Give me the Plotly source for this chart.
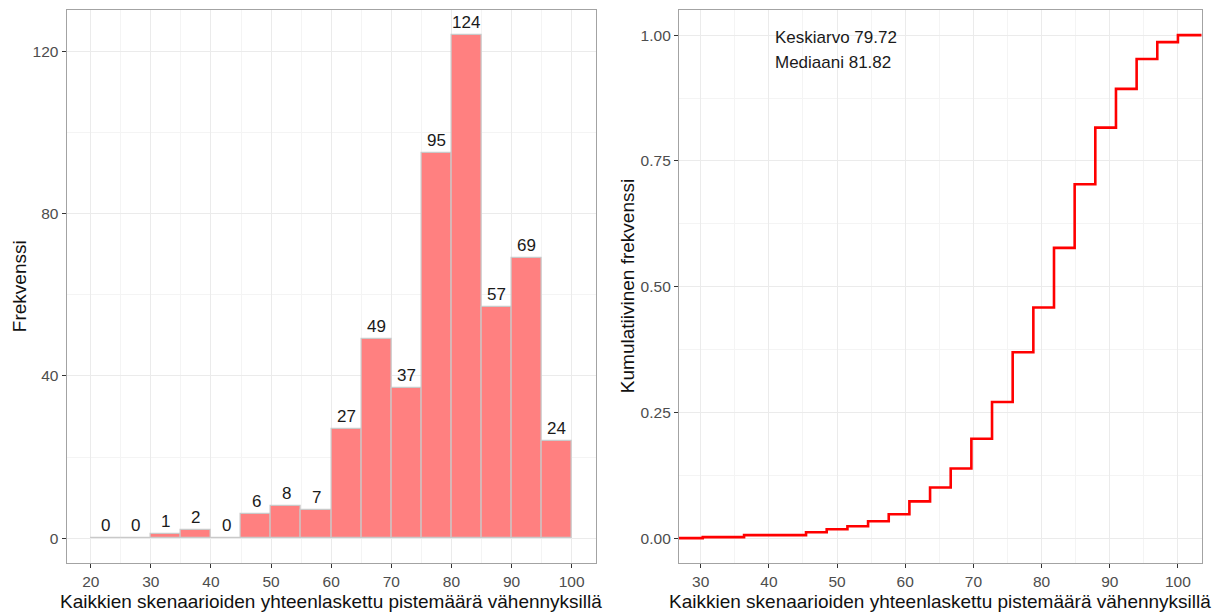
import numpy as np
import plotly.graph_objects as go

# Total scores (with deductions) over all scenarios and how many respondents got each
score_values = [30.30, 36.36, 45.45, 48.48, 51.52, 54.55, 57.58, 60.61, 63.64, 66.67,
                69.70, 72.73, 75.76, 78.79, 81.82, 84.85, 87.88, 90.91, 93.94, 96.97, 100.00]
score_counts = [1, 2, 3, 3, 3, 5, 7, 13, 14, 19,
                30, 37, 50, 45, 60, 64, 57, 39, 30, 17, 7]

# Histogram bins
bin_edges = [20, 25, 30, 35, 40, 45, 50, 55, 60, 65, 70, 75, 80, 85, 90, 95, 100]

x_title = "Kaikkien skenaarioiden yhteenlaskettu pistemäärä vähennyksillä"
y_title_left = "Frekvenssi"
y_title_right = "Kumulatiivinen frekvenssi"

# ---------------------------------------------------------------- data prep
scores = np.repeat(np.array(score_values), score_counts)
n = len(scores)
hist_counts, _ = np.histogram(scores, bins=bin_edges)
edges = np.array(bin_edges, dtype=float)
centers = (edges[:-1] + edges[1:]) / 2
widths = np.diff(edges)

vals = np.array(score_values)
cum = np.cumsum(score_counts) / n

mean_val = scores.mean()
median_val = np.median(scores)


def expand(lo, hi, mult=0.05):
    pad = (hi - lo) * mult
    return [lo - pad, hi + pad]


xr1 = expand(edges[0], edges[-1])
yr1 = expand(0, hist_counts.max())
xr2 = expand(vals.min(), vals.max())
yr2 = expand(0, 1)

# ---------------------------------------------------------------- layout geometry (px)
W, H = 1216, 613
left_px = (66.7, 595.7)
right_px = (679.0, 1201.7)
top_px, bottom_px = 10.0, 563.3


def px_x(a, b):
    return [a / W, b / W]


ydom = [(H - bottom_px) / H, (H - top_px) / H]

FONT = "Liberation Sans, Arial, sans-serif"
TICK_FONT = dict(family=FONT, size=15.5, color="#4d4d4d")
MAJOR = "#ebebeb"
MINOR = "#f4f4f4"
BORDER = "#a3a3a3"


def axis(domain, rng, dtick, minor_dtick, tick0, anchor, fmt=None):
    d = dict(
        domain=domain, range=rng, anchor=anchor,
        tick0=tick0, dtick=dtick, tickmode="linear",
        showgrid=True, gridcolor=MAJOR, gridwidth=1.2,
        minor=dict(showgrid=True, gridcolor=MINOR, gridwidth=1,
                   dtick=minor_dtick, tick0=tick0 + minor_dtick, ticks=""),
        zeroline=False,
        showline=True, mirror=True, linecolor=BORDER, linewidth=1.3,
        ticks="outside", ticklen=4, tickwidth=1.1, tickcolor="#333333",
        tickfont=TICK_FONT, automargin=False, fixedrange=True,
    )
    if fmt:
        d["tickformat"] = fmt
    return d


fig = go.Figure()

# Left: histogram bars
fig.add_trace(go.Bar(
    x=centers, y=hist_counts, width=widths,
    marker=dict(color="#ff8080", line=dict(color="#c9c9c9", width=1.2)),
    xaxis="x", yaxis="y", hoverinfo="x+y", showlegend=False,
))

# Right: empirical cumulative distribution as a step line across the panel
step_x = [xr2[0]] + list(vals) + [xr2[1]]
step_y = [0.0] + list(cum) + [1.0]
fig.add_trace(go.Scatter(
    x=step_x, y=step_y, mode="lines", line=dict(color="#ff0000", width=2.6, shape="hv"),
    xaxis="x2", yaxis="y2", showlegend=False,
))

fig.update_layout(
    width=W, height=H,
    margin=dict(l=0, r=0, t=0, b=0),
    paper_bgcolor="white", plot_bgcolor="white",
    bargap=0,
    font=dict(family=FONT),
    xaxis=axis(px_x(*left_px), xr1, 10, 5, 20, "y"),
    yaxis=axis(ydom, yr1, 40, 20, 0, "x"),
    xaxis2=axis(px_x(*right_px), xr2, 10, 5, 30, "y2"),
    yaxis2=axis(ydom, yr2, 0.25, 0.125, 0, "x2", fmt=".2f"),
)

ann = []

# Count labels above each bar
label_font = dict(family=FONT, size=17, color="#1a1a1a")
for cx, c in zip(centers, hist_counts):
    ann.append(dict(text=str(c), x=cx, y=c, xref="x", yref="y",
                    xanchor="center", yanchor="bottom", yshift=1,
                    showarrow=False, font=label_font))

title_font = dict(family=FONT, size=19, color="#111111")
mid_y = ((H - bottom_px) / H + (H - top_px) / H) / 2
for (a, b) in (left_px, right_px):
    ann.append(dict(text=x_title, x=(a + b) / 2 / W, y=(H - 601) / H,
                    xref="paper", yref="paper", xanchor="center", yanchor="middle",
                    showarrow=False, font=title_font))
ann.append(dict(text=y_title_left, x=19.5 / W, y=mid_y, xref="paper", yref="paper",
                xanchor="center", yanchor="middle", textangle=-90,
                showarrow=False, font=title_font))
ann.append(dict(text=y_title_right, x=627.5 / W, y=mid_y, xref="paper", yref="paper",
                xanchor="center", yanchor="middle", textangle=-90,
                showarrow=False, font=title_font))

stat_font = dict(family=FONT, size=17, color="#1a1a1a")
ann.append(dict(text=f"Keskiarvo {mean_val:.2f}", x=40.6, y=0.995, xref="x2", yref="y2",
                xanchor="left", yanchor="middle", showarrow=False, font=stat_font))
ann.append(dict(text=f"Mediaani {median_val:.2f}", x=40.6, y=0.945, xref="x2", yref="y2",
                xanchor="left", yanchor="middle", showarrow=False, font=stat_font))
fig.update_layout(annotations=ann)

fig.write_html("out.html")
